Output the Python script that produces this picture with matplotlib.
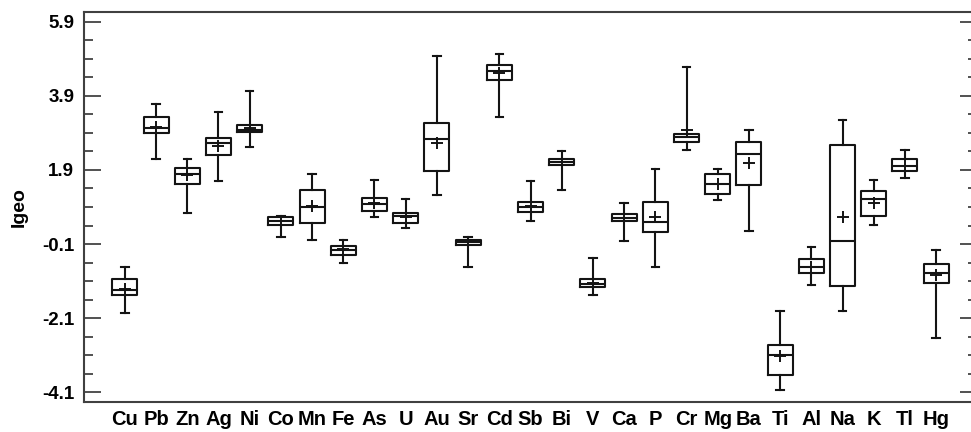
import numpy as np
import matplotlib
matplotlib.use("Agg")
import matplotlib.pyplot as plt
from matplotlib.ticker import FixedLocator

plt.rcParams['font.family'] = ['Liberation Sans', 'DejaVu Sans']

# Igeo box statistics
elements = ["Cu", "Pb", "Zn", "Ag", "Ni", "Co", "Mn", "Fe", "As", "U", "Au", "Sr", "Cd", "Sb",
            "Bi", "V", "Ca", "P", "Cr", "Mg", "Ba", "Ti", "Al", "Na", "K", "Tl", "Hg"]
whisker_low = [-1.97, 2.21, 0.73, 1.60, 2.53, 0.10, 0.00, -0.61, 0.62, 0.33, 1.22, -0.71, 3.33, 0.51,
               1.35, -1.49, -0.01, -0.71, 2.45, 1.08, 0.24, -4.05, -1.21, -1.91, 0.41, 1.68, -2.65]
q1 = [-1.49, 2.90, 1.53, 2.31, 2.94, 0.41, 0.48, -0.41, 0.79, 0.48, 1.88, -0.13, 4.34, 0.76,
      2.03, -1.27, 0.51, 0.23, 2.66, 1.25, 1.49, -3.63, -0.89, -1.24, 0.66, 1.88, -1.15]
median = [-1.34, 3.03, 1.79, 2.64, 2.97, 0.53, 0.90, -0.26, 0.98, 0.67, 2.74, -0.05, 4.58, 0.89,
          2.11, -1.17, 0.59, 0.49, 2.78, 1.52, 2.34, -3.11, -0.71, -0.01, 1.12, 2.01, -0.88]
q3 = [-1.05, 3.32, 1.96, 2.77, 3.12, 0.62, 1.36, -0.15, 1.15, 0.73, 3.18, 0.00, 4.73, 1.04,
      2.21, -1.05, 0.70, 1.04, 2.87, 1.78, 2.66, -2.82, -0.50, 2.58, 1.32, 2.20, -0.65]
whisker_high = [-0.71, 3.68, 2.21, 3.47, 4.04, 0.66, 1.79, 0.00, 1.64, 1.12, 4.97, 0.10, 5.04, 1.60,
                2.41, -0.47, 1.02, 1.92, 4.69, 1.92, 2.97, -1.91, -0.19, 3.26, 1.63, 2.44, -0.25]
mean = [-1.32, 3.07, 1.76, 2.56, 3.04, 0.51, 0.92, -0.23, 1.00, 0.64, 2.62, -0.05, 4.53, 0.93,
        2.12, -1.15, 0.59, 0.62, 2.98, 1.52, 2.09, -3.13, -0.71, 0.62, 1.01, 2.02, -0.95]

yticks = [-4.1, -2.1, -0.1, 1.9, 3.9, 5.9]

stats = []
for i in range(len(elements)):
    stats.append({"label": elements[i], "whislo": whisker_low[i], "q1": q1[i], "med": median[i],
                  "q3": q3[i], "whishi": whisker_high[i], "mean": mean[i], "fliers": []})

fig = plt.figure(figsize=(9.71, 4.32), dpi=100)
ax = fig.add_axes([84 / 971, 1 - 402 / 432, (977 - 84) / 971, 390 / 432])

lc = "#141414"
line = dict(color=lc, linewidth=1.5)
pos = np.arange(1, len(elements) + 1)
ax.bxp(stats, positions=pos, widths=0.8, capwidths=0.24, showmeans=True,
       boxprops=line, whiskerprops=line, capprops=line, medianprops=line,
       meanprops=dict(marker="+", markersize=8, markeredgewidth=1.4, markeredgecolor=lc))

ax.set_xlim(-0.31, 28.31)
ax.set_ylim(-4.37, 6.17)
ax.set_xticks(pos)
ax.set_xticklabels(elements, fontsize=14.5, fontweight="bold")
ax.tick_params(axis="x", length=0, pad=6)

ax.set_yticks(yticks)
ax.set_yticklabels([str(v) for v in yticks], fontsize=13.5, fontweight="bold")
ax.yaxis.set_minor_locator(FixedLocator(np.arange(-3.6, 5.5, 0.5)))
ax.tick_params(axis="y", which="major", direction="in", length=12, width=1.2,
               right=True, left=True, color="#333333", pad=7)
ax.tick_params(axis="y", which="minor", direction="in", length=6.5, width=1.2,
               right=True, left=True, color="#333333")
ax.set_ylabel("Igeo", fontsize=14, fontweight="bold", labelpad=10)

for s in ax.spines.values():
    s.set_color("#404040")
    s.set_linewidth(1.5)

fig.savefig("out.png", dpi=100)
